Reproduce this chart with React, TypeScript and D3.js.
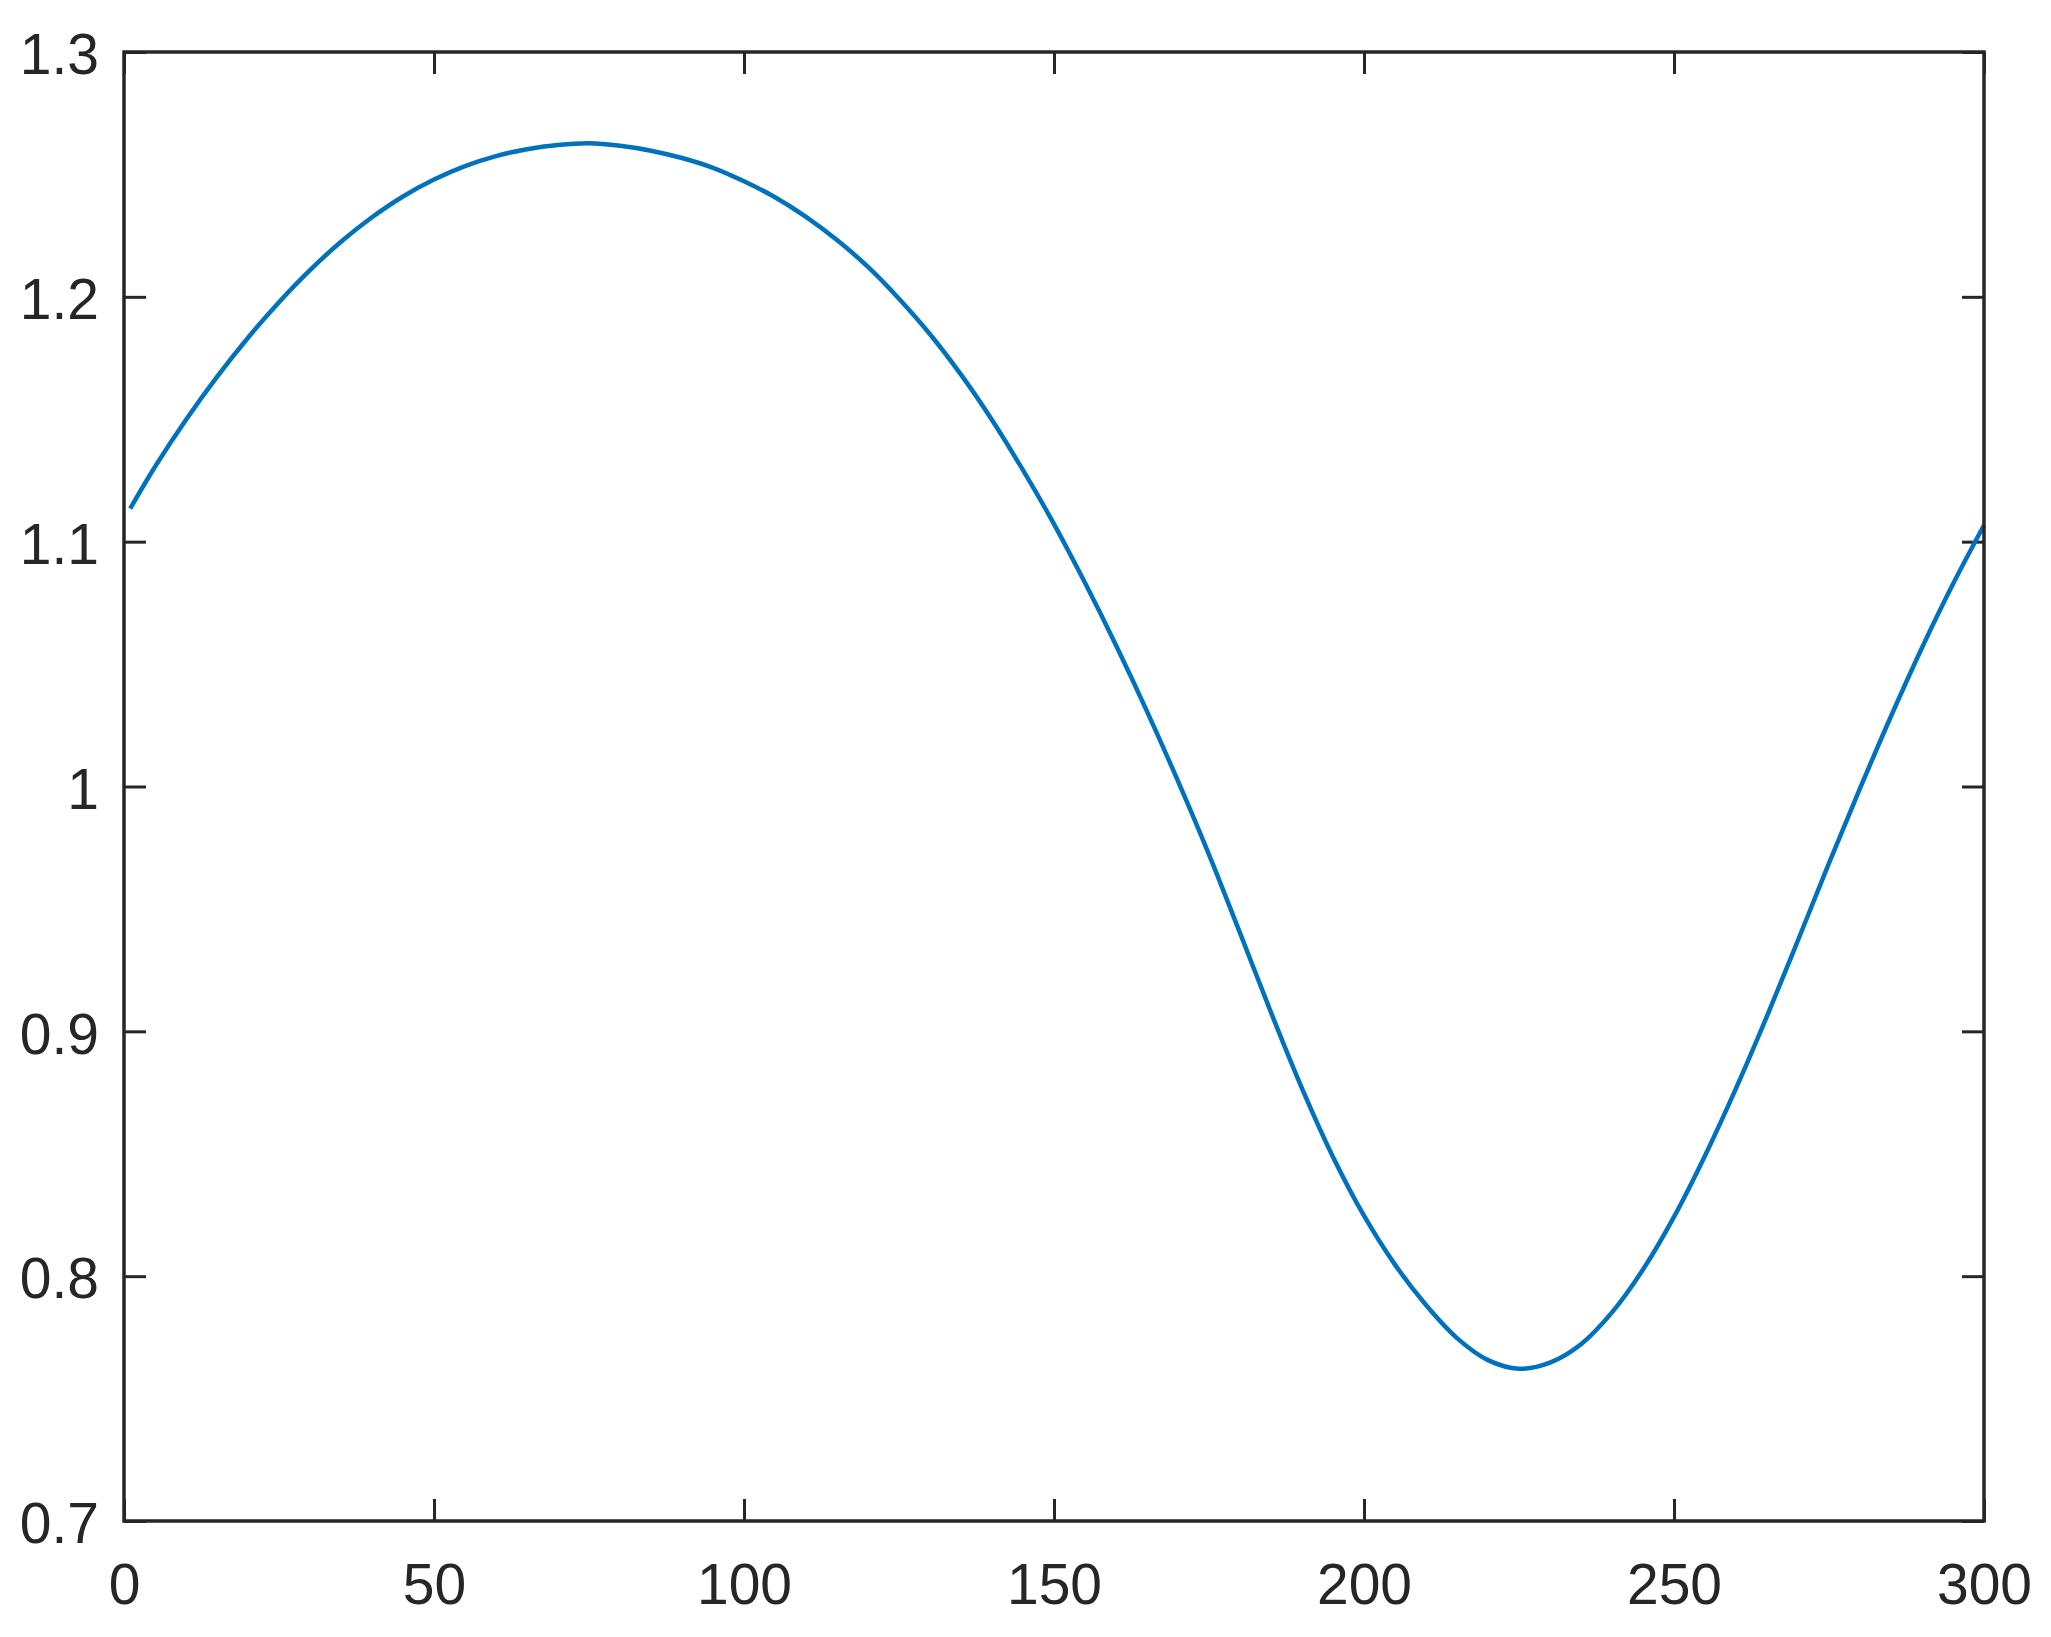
import { useRef, useEffect } from 'react';
import * as d3 from 'd3';

// values
const xs = [1, 5, 10, 15, 20, 25, 30, 35, 40, 45, 50, 55, 60, 65, 70, 75, 80, 85, 90, 95,
  100, 105, 110, 115, 120, 125, 130, 135, 140, 145, 150, 155, 160, 165, 170, 175, 180, 185, 190, 195,
  200, 205, 210, 215, 220, 225, 230, 235, 240, 245, 250, 255, 260, 265, 270, 275, 280, 285, 290, 295, 300];
const ys = [1.1135, 1.1306, 1.1498, 1.1673, 1.1833, 1.1978, 1.2109, 1.2225, 1.2325, 1.2410, 1.2479, 1.2534, 1.2575, 1.2603, 1.2620, 1.2627, 1.2617, 1.2597, 1.2567, 1.2527,
  1.2472, 1.2407, 1.2327, 1.2232, 1.2122, 1.1992, 1.1847, 1.1682, 1.1497, 1.1292, 1.1072, 1.0832, 1.0577, 1.0307, 1.0022, 0.9722, 0.9402, 0.9077, 0.8767, 0.8487,
  0.8247, 0.8047, 0.7882, 0.7747, 0.7657, 0.7622, 0.7647, 0.7722, 0.7852, 0.8027, 0.8242, 0.8492, 0.8767, 0.9062, 0.9372, 0.9687, 0.9992, 1.0287, 1.0567, 1.0827, 1.1067];

const xTicks = [0, 50, 100, 150, 200, 250, 300];
const yTicks = [0.7, 0.8, 0.9, 1, 1.1, 1.2, 1.3];

const W = 2051, H = 1637;
const margin = { top: 52, right: 67, bottom: 116, left: 124 };
const AXIS = '#262626';
const LINE = '#0072BD';

export default function App() {
  const svgRef = useRef<SVGSVGElement>(null);

  useEffect(() => {
    if (!svgRef.current) return;
    const iw = W - margin.left - margin.right;
    const ih = H - margin.top - margin.bottom;
    const svg = d3.select(svgRef.current);
    svg.selectAll('*').remove();
    const g = svg.append('g').attr('transform', `translate(${margin.left},${margin.top})`);

    const x = d3.scaleLinear().domain([0, 300]).range([0, iw]);
    const y = d3.scaleLinear().domain([0.7, 1.3]).range([ih, 0]);

    const font = '"Liberation Sans", Arial, Helvetica, sans-serif';

    // bottom axis with labels
    const bx = g.append('g').attr('transform', `translate(0,${ih})`)
      .call(d3.axisBottom(x).tickValues(xTicks).tickSizeInner(-22).tickSizeOuter(0).tickPadding(43).tickFormat(d3.format('d')));
    // left axis with labels
    const ly = g.append('g')
      .call(d3.axisLeft(y).tickValues(yTicks).tickSizeInner(-22).tickSizeOuter(0).tickPadding(25).tickFormat(d => String(+d)));
    ly.selectAll('text').attr('dy', '0.38em');
    // mirrored ticks on top and right
    const tx = g.append('g')
      .call(d3.axisTop(x).tickValues(xTicks).tickSizeInner(-22).tickSizeOuter(0).tickFormat(() => ''));
    const ry = g.append('g').attr('transform', `translate(${iw},0)`)
      .call(d3.axisRight(y).tickValues(yTicks).tickSizeInner(-22).tickSizeOuter(0).tickFormat(() => ''));

    [bx, ly, tx, ry].forEach(a => {
      a.select('.domain').remove();
      a.selectAll('line').attr('stroke', AXIS).attr('stroke-width', 3);
      a.selectAll('text').attr('fill', AXIS).style('font-size', '57px').style('font-family', font);
    });

    // curve
    const line = d3.line<number>()
      .x((_, i) => x(xs[i]))
      .y(d => y(d))
      .curve(d3.curveCatmullRom);
    g.append('path').datum(ys)
      .attr('d', line)
      .attr('fill', 'none')
      .attr('stroke', LINE)
      .attr('stroke-width', 4.5);

    // box
    g.append('rect')
      .attr('x', 0).attr('y', 0).attr('width', iw).attr('height', ih)
      .attr('fill', 'none').attr('stroke', AXIS).attr('stroke-width', 3.5);
  }, []);

  return (
    <div style={{ position: 'absolute', left: 0, top: 0, width: W, height: H, background: '#fff' }}>
      <svg ref={svgRef} width={W} height={H} style={{ display: 'block' }} />
    </div>
  );
}
